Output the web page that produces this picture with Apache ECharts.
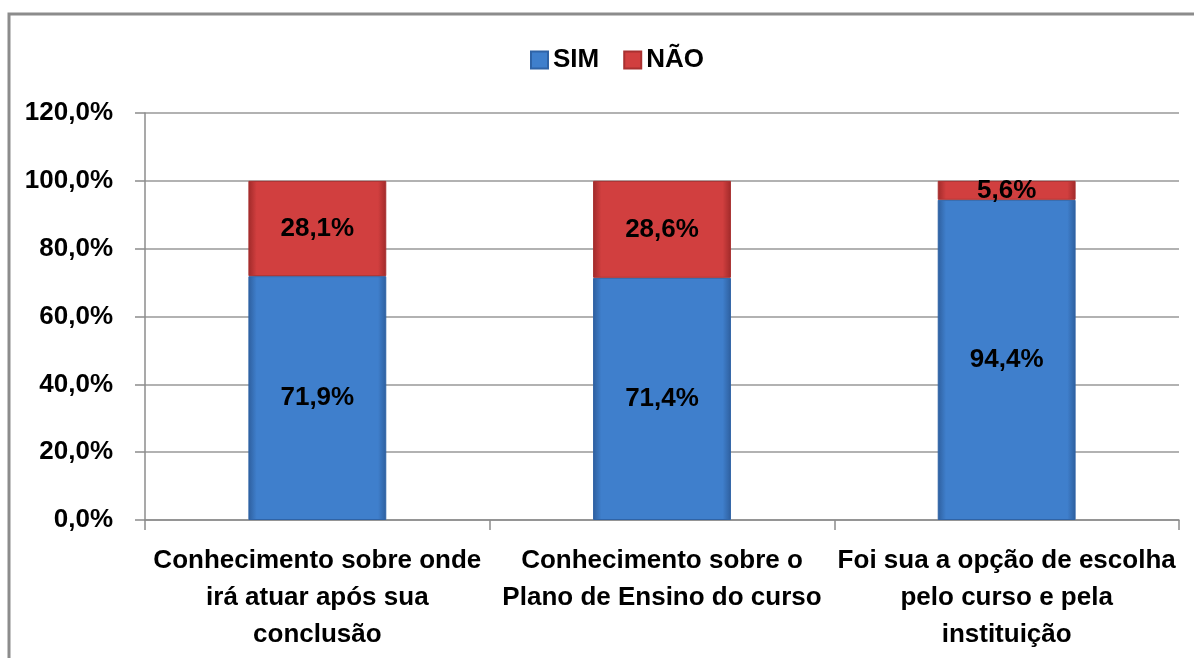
<!DOCTYPE html>
<html>
<head>
<meta charset="utf-8">
<script src="https://cdn.jsdelivr.net/npm/echarts@6/dist/echarts.min.js"></script>
<style>
  html, body { margin: 0; padding: 0; background: #fff; }
  #chart { width: 1194px; height: 658px; }
</style>
</head>
<body>
<div id="chart"></div>
<script>
const categories = [
  'Conhecimento sobre onde\nirá atuar após sua\nconclusão',
  'Conhecimento sobre o\nPlano de Ensino do curso',
  'Foi sua a opção de escolha\npelo curso e pela\ninstituição'
]
const simValues = [71.9, 71.4, 94.4]
const naoValues = [28.1, 28.6, 5.6]
const yTicks = [0, 20, 40, 60, 80, 100, 120]

const font = '"Liberation Sans Narrow", "Arial Narrow", "Liberation Sans", sans-serif'
const fmt = v => v.toFixed(1).replace('.', ',') + '%'

// darker side edges, a bit like the excel bevel
function bevel(mid, edge) {
  return new echarts.graphic.LinearGradient(0, 0, 1, 0, [
    { offset: 0, color: edge },
    { offset: 0.06, color: mid },
    { offset: 0.94, color: mid },
    { offset: 1, color: edge }
  ])
}

const chart = echarts.init(document.getElementById('chart'))

chart.setOption({
  animation: false,
  textStyle: { fontFamily: font },
  graphic: [{
    type: 'rect',
    shape: { x: 9, y: 14, width: 1200, height: 700 },
    style: { fill: 'none', stroke: '#8c8c8c', lineWidth: 3 },
    silent: true
  }],
  legend: {
    top: 42,
    left: 525,
    icon: 'rect',
    itemWidth: 17,
    itemHeight: 17,
    itemGap: 24,
    textStyle: { fontSize: 26, fontWeight: 'bold', color: '#000', fontFamily: font },
    data: ['SIM', 'NÃO']
  },
  grid: { left: 145, right: 15, top: 113, bottom: 138 },
  xAxis: {
    type: 'category',
    data: categories,
    axisLine: { lineStyle: { color: '#8c8c8c', width: 1.5 } },
    axisTick: { show: true, length: 10, lineStyle: { color: '#8c8c8c', width: 1.5 } },
    axisLabel: {
      interval: 0,
      margin: 22,
      fontSize: 26,
      lineHeight: 37,
      fontWeight: 'bold',
      color: '#000',
      fontFamily: font
    }
  },
  yAxis: {
    type: 'value',
    min: yTicks[0],
    max: yTicks[yTicks.length - 1],
    interval: 20,
    axisLine: { show: true, lineStyle: { color: '#8c8c8c', width: 1.5 } },
    axisTick: { show: true, length: 10, lineStyle: { color: '#8c8c8c', width: 1.5 } },
    axisLabel: {
      formatter: fmt,
      margin: 32,
      fontSize: 26,
      fontWeight: 'bold',
      color: '#000',
      fontFamily: font
    },
    splitLine: { lineStyle: { color: '#999', width: 1.5 } }
  },
  series: [
    {
      name: 'SIM',
      type: 'bar',
      stack: 'total',
      barWidth: '40%',
      data: simValues,
      itemStyle: {
        color: bevel('#3f7fcc', '#2e5f9e'),
        borderColor: '#2f63a6',
        borderWidth: 1
      },
      label: {
        show: true,
        position: 'inside',
        formatter: p => fmt(p.value),
        fontSize: 26,
        fontWeight: 'bold',
        color: '#000',
        fontFamily: font
      }
    },
    {
      name: 'NÃO',
      type: 'bar',
      stack: 'total',
      barWidth: '40%',
      data: naoValues,
      itemStyle: {
        color: bevel('#d13f3f', '#a02a2a'),
        borderColor: '#a83030',
        borderWidth: 1
      },
      label: {
        show: true,
        position: 'inside',
        formatter: p => fmt(p.value),
        fontSize: 26,
        fontWeight: 'bold',
        color: '#000',
        fontFamily: font
      }
    }
  ]
})
</script>
</body>
</html>
